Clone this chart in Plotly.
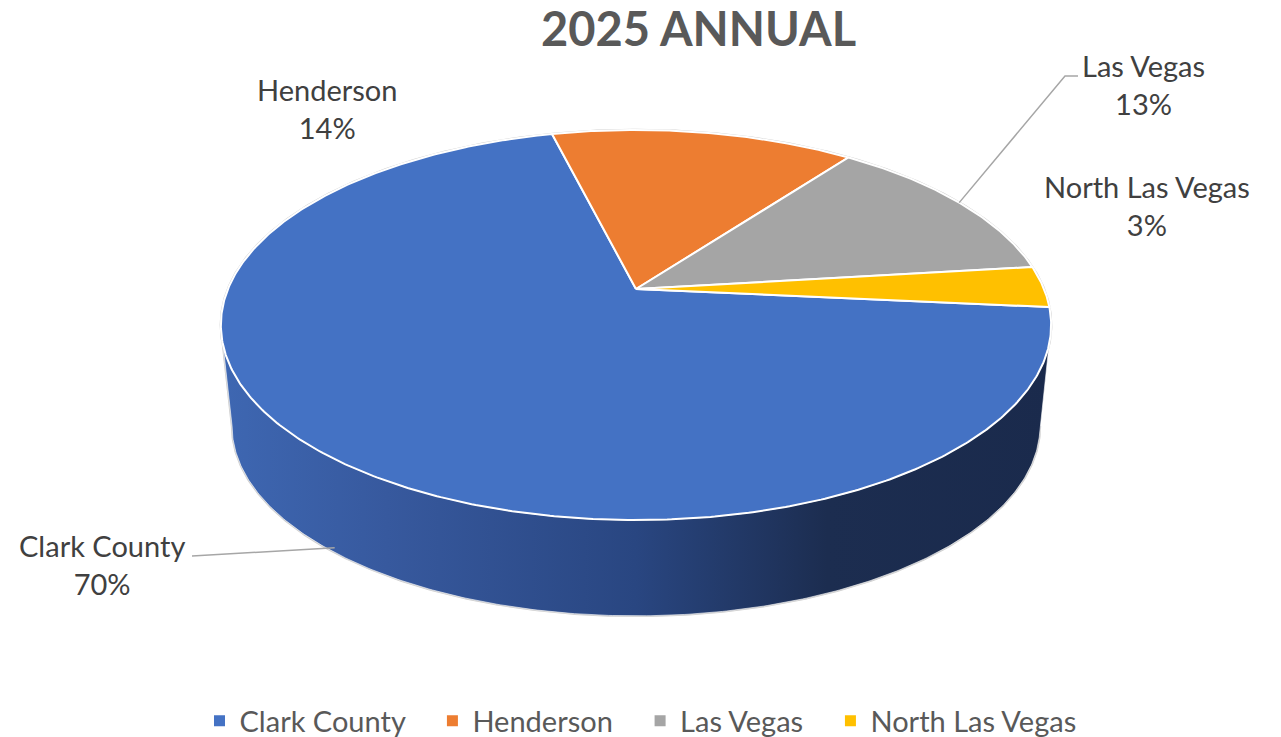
import math
import plotly.graph_objects as go

# ---------------- data ----------------
categories = ["Clark County", "Henderson", "Las Vegas", "North Las Vegas"]
values = [69.6, 14.1, 12.9, 3.4]
colors = ["#4472C4", "#ED7D31", "#A5A5A5", "#FFC000"]
title_text = "2025 ANNUAL"

# ---------------- geometry / style ----------------
W, H = 1281, 737
CX, CY = 636, 289          # pie apex on screen
A, B = 408, 188.4          # projective radii of top face
K = 0.1847                 # perspective factor
DEPTH = 102                # thickness
BOT_SCALE = 0.973
START = 95.4               # first slice angle (deg, clockwise from 12 o'clock)
FONT = "Lato, 'Open Sans', sans-serif"
LABEL_SIZE = 29

def proj(phi_deg, top=True):
    p = math.radians(phi_deg)
    u, v = math.sin(p), math.cos(p)
    w = 1 + K * v
    if top:
        return CX + A * u / w, CY - B * v / w
    return CX + A * BOT_SCALE * u / w, CY + DEPTH - B * BOT_SCALE * v / w

def arc(a0, a1, top=True, step=0.5):
    n = max(2, int(abs(a1 - a0) / step) + 1)
    pts = [proj(a0 + (a1 - a0) * i / (n - 1), top) for i in range(n)]
    return [p[0] for p in pts], [p[1] for p in pts]

total = sum(values)
spans = [v / total * 360 for v in values]
starts = []
acc = START
for s in spans:
    starts.append(acc)
    acc += s
mids = [st + sp / 2 for st, sp in zip(starts, spans)]

fig = go.Figure()

# silhouette outline
sil = math.degrees(math.acos(-K))
tx, ty = arc(sil, 360 - sil, True)
bx, by = arc(360 - sil, sil, False)
back_x, back_y = arc(360 - sil, 360 + sil, True)
fig.add_trace(go.Scatter(x=back_x + tx + bx, y=back_y + ty + by,
                         mode="lines", line=dict(color="#cfcfcf", width=2.5),
                         hoverinfo="skip", showlegend=False))
# side wall
fig.add_trace(go.Scatter(x=tx + bx + tx[:1], y=ty + by + ty[:1], mode="lines", fill="toself",
                         line=dict(color="rgba(255,255,255,0.6)", width=1),
                         fillgradient=dict(type="horizontal",
                                           colorscale=[[0, "#3e67b2"], [0.2, "#37599e"],
                                                       [0.5, "#294681"], [0.73, "#1c2d50"],
                                                       [1, "#1a2a4c"]]),
                         hoverinfo="skip", showlegend=False))

# top face slices
for name, st, sp, col in zip(categories, starts, spans, colors):
    ax_, ay_ = arc(st, st + sp, True)
    fig.add_trace(go.Scatter(x=[CX] + ax_ + [CX], y=[CY] + ay_ + [CY], mode="lines",
                             fill="toself", fillcolor=col,
                             line=dict(color="white", width=2),
                             hoverinfo="skip", showlegend=False))

# legend entries (padding with no-break spaces to mimic the spacing)
pads = [3, 3, 3, 0]
for name, col, pd in zip(categories, colors, pads):
    fig.add_trace(go.Scatter(x=[None], y=[None], mode="markers", name=name + "\u00a0" * pd,
                             marker=dict(symbol="square", size=11, color=col)))

# data labels
label_pos = {
    "Clark County": (102, 564),
    "Henderson": (327, 108),
    "Las Vegas": (1143, 84),
    "North Las Vegas": (1147, 205),
}
for name, v in zip(categories, values):
    x0, y0 = label_pos[name]
    fig.add_annotation(x=x0, y=y0, xref="x", yref="y", showarrow=False,
                       text=f"{name}<br>{round(v / total * 100)}%", align="center",
                       font=dict(family=FONT, size=LABEL_SIZE, color="#404040"))

# leader lines
i_cc = categories.index("Clark County")
t = proj(mids[i_cc], True)
b = proj(mids[i_cc], False)
ex, ey = t[0] + 0.95 * (b[0] - t[0]), t[1] + 0.95 * (b[1] - t[1])
fig.add_trace(go.Scatter(x=[192, ex], y=[556, ey], mode="lines",
                         line=dict(color="#a6a6a6", width=1.5), hoverinfo="skip", showlegend=False))
i_lv = categories.index("Las Vegas")
px, py = proj(mids[i_lv], True)
fig.add_trace(go.Scatter(x=[1078, 1065, px], y=[76, 76, py], mode="lines",
                         line=dict(color="#a6a6a6", width=1.5), hoverinfo="skip", showlegend=False))

fig.add_annotation(x=698, y=28, xref="x", yref="y", showarrow=False, text=f"<b>{title_text}</b>",
                   font=dict(family=FONT, size=47, color="#595959"))

fig.update_layout(
    width=W, height=H, margin=dict(l=0, r=0, t=0, b=0, autoexpand=False),
    paper_bgcolor="white", plot_bgcolor="white",
    xaxis=dict(range=[0, W], visible=False, fixedrange=True),
    yaxis=dict(range=[H, 0], visible=False, fixedrange=True),
    showlegend=True,
    legend=dict(orientation="h", x=0.5, xanchor="center", y=1 - 721 / H, yanchor="middle",
                font=dict(family=FONT, size=LABEL_SIZE, color="#595959"), itemwidth=30,
                bgcolor="rgba(0,0,0,0)"),
)

post = (
    "document.documentElement.style.margin='0';"
    "document.documentElement.style.overflow='hidden';"
    "document.body.style.margin='0';"
    "document.body.style.overflow='hidden';"
    "var gd=document.getElementById('{plot_id}');"
    "gd.style.position='fixed';gd.style.top='0px';gd.style.left='0px';"
)
fig.write_html("out.html", config={"displayModeBar": False}, post_script=post)
